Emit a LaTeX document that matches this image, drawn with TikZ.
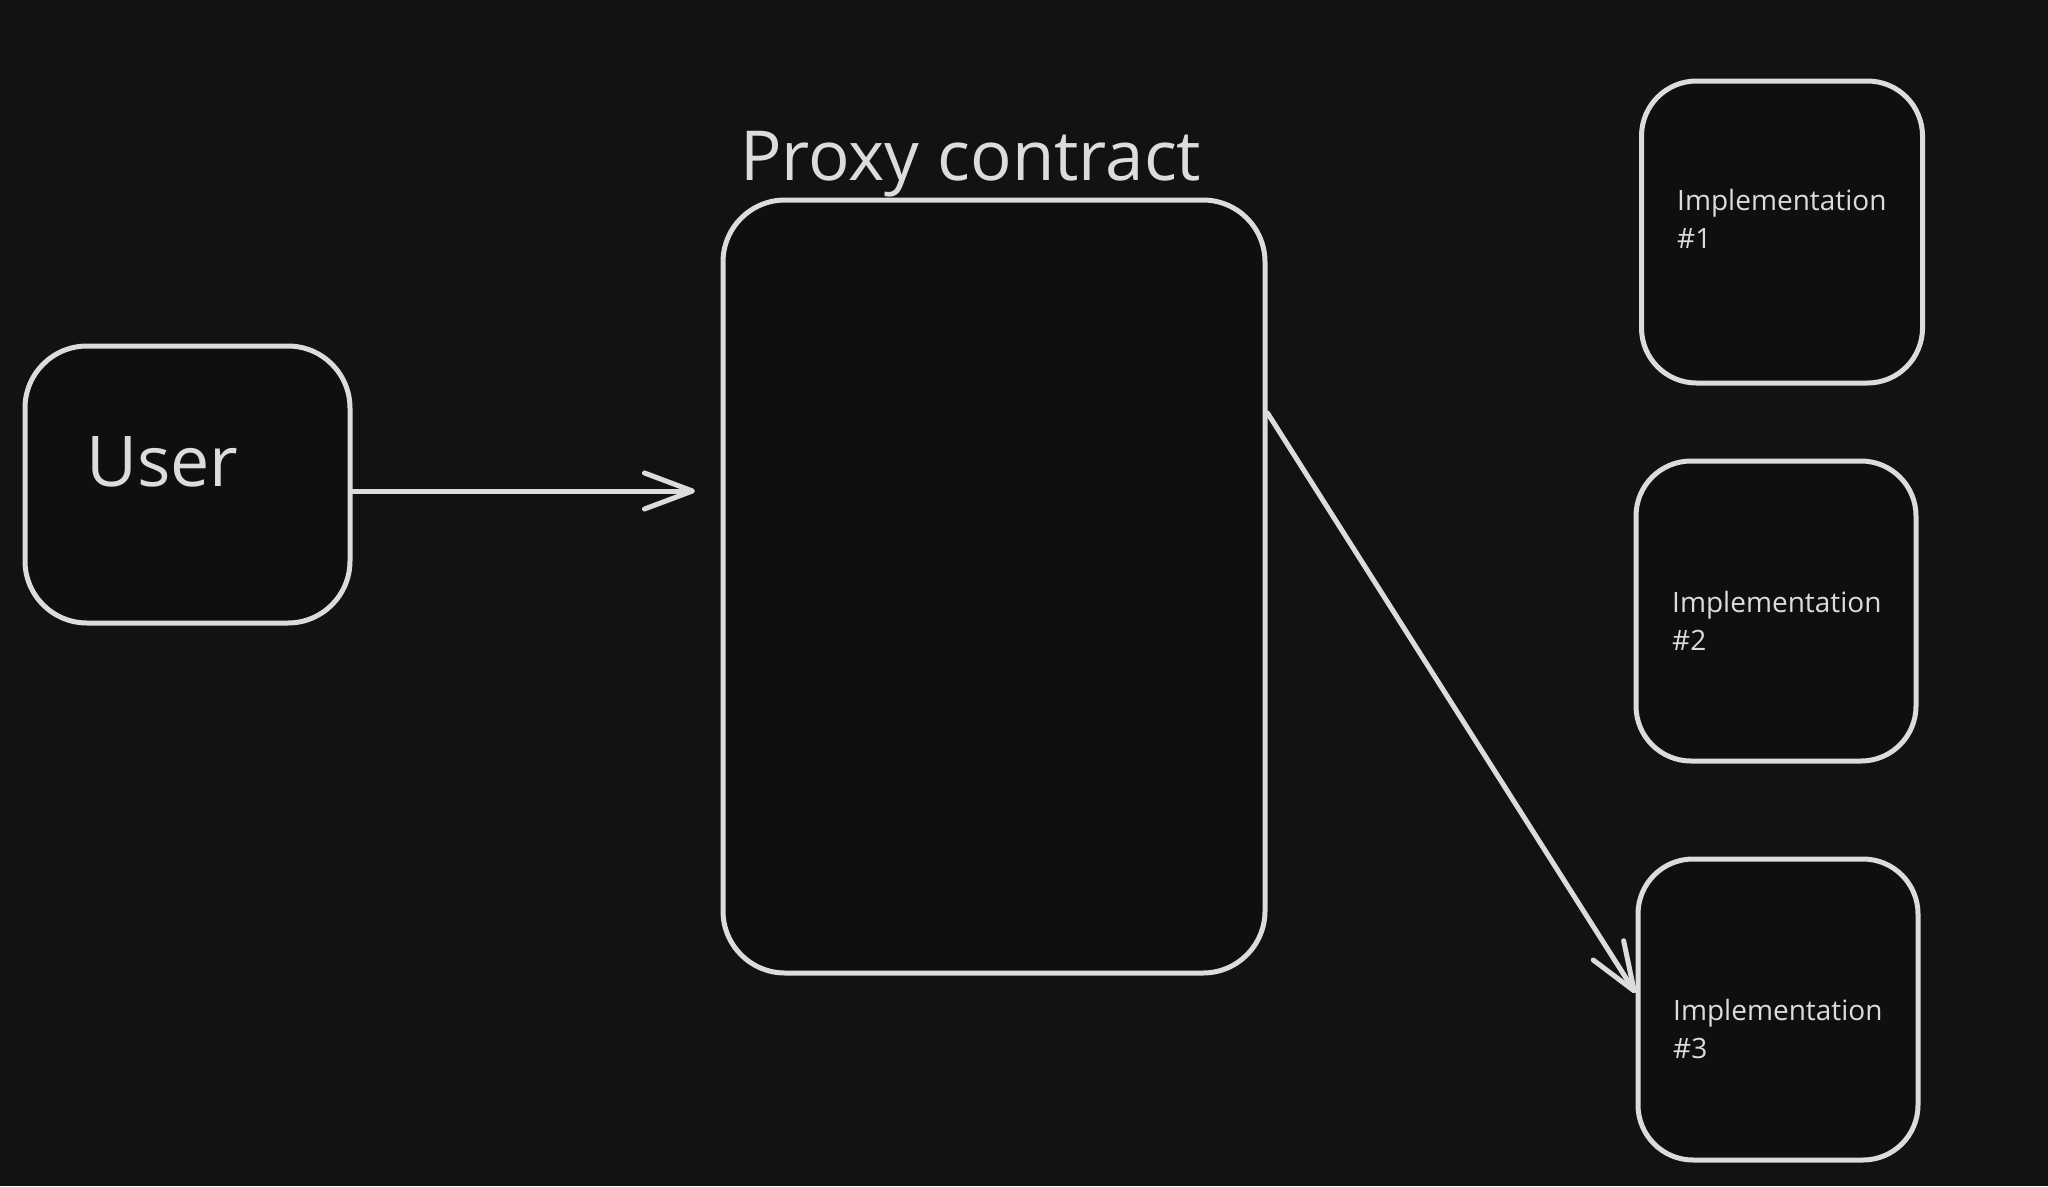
\documentclass[tikz,border=0pt]{standalone}
\usepackage{fontspec}
\setmainfont{Open Sans}
\usetikzlibrary{arrows.meta}
\definecolor{bgc}{HTML}{121212}
\definecolor{boxfill}{HTML}{0F0F10}
\definecolor{ink}{HTML}{DCDCDC}
\tikzset{
  sketchbox/.style={draw=ink, fill=boxfill, line width=5pt, rounded corners=#1, inner sep=0pt},
  sketchbox/.default=55pt,
  conn/.style={draw=ink, line width=5pt, line cap=round,
    -{Straight Barb[length=48pt, width=36pt, line width=5pt, round]}},
  bigtxt/.style={text=ink, inner sep=0pt, anchor=base west},
  impltxt/.style={text=ink, inner sep=0pt, anchor=base west, align=left,
    font=\fontsize{28}{38}\selectfont},
}
\begin{document}
\begin{tikzpicture}[x=1pt, y=-1pt]
\useasboundingbox (0,0) rectangle (2048,1186);
\fill[bgc] (0,0) rectangle (2048,1186);

% boxes
\node[sketchbox=62pt, minimum width=325pt, minimum height=277pt] (user) at (187.5,484.5) {};
\node[sketchbox=62pt, minimum width=542pt, minimum height=773pt] (proxy) at (994,586.5) {};
\node[sketchbox=55pt, minimum width=281pt, minimum height=302pt] (impl1) at (1782,232) {};
\node[sketchbox=55pt, minimum width=280pt, minimum height=300pt] (impl2) at (1776,611) {};
\node[sketchbox=55pt, minimum width=280pt, minimum height=301pt] (impl3) at (1778,1009.5) {};

% texts
\node[bigtxt, font=\fontsize{70}{80}\selectfont] (usertxt) at (86,486) {User};
\node[bigtxt, font=\fontsize{69}{80}\selectfont] (proxytxt) at (740,180) {Proxy contract};
\node[impltxt] (impl1txt) at (1677,248) {Implementation\\\#1};
\node[impltxt] (impl2txt) at (1672,650) {Implementation\\\#2};
\node[impltxt] (impl3txt) at (1673,1058) {Implementation\\\#3};

% connectors
\coordinate (callend) at (695,491);
\draw[conn] ([yshift=-6.5pt]user.east) -- (callend);
\draw[conn] ([yshift=173.5pt]proxy.east) -- ([yshift=16.5pt]impl3.west);
\end{tikzpicture}
\end{document}
